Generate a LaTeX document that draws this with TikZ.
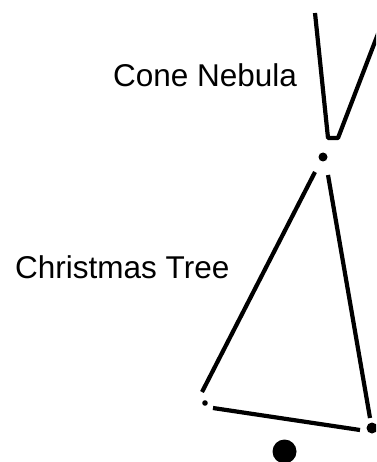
\documentclass[tikz,border=0pt]{standalone}
\usepackage{fontspec}
\setmainfont{Liberation Sans}
\usepackage{tikz}

\begin{document}
\begin{tikzpicture}[x=1pt,y=-1pt,
  stroke/.style={line width=4.2pt,line join=round},
  star/.style={fill=black},
  label/.style={inner sep=0pt,anchor=base west,font=\fontsize{31.5}{36}\selectfont}]
  \clip (0,0) rectangle (376,462);
  % cone nebula
  \draw[stroke] (315,13) -- (328,138) -- (338,138) -- (386,13);
  \fill[star] (323,157) circle (4.5);
  % christmas tree
  \draw[stroke] (315,172) -- (202,392);
  \draw[stroke] (328,175) -- (370,418);
  \draw[stroke] (213,408) -- (360,430);
  \fill[star] (205,403) circle (2.8);
  \fill[star] (372,428) circle (5.5);
  \fill[star] (284.5,451.5) circle (12);
  \node[label] (cone) at (113,87) {Cone Nebula};
  \node[label] (tree) at (15,278) {Christmas Tree};
\end{tikzpicture}
\end{document}
